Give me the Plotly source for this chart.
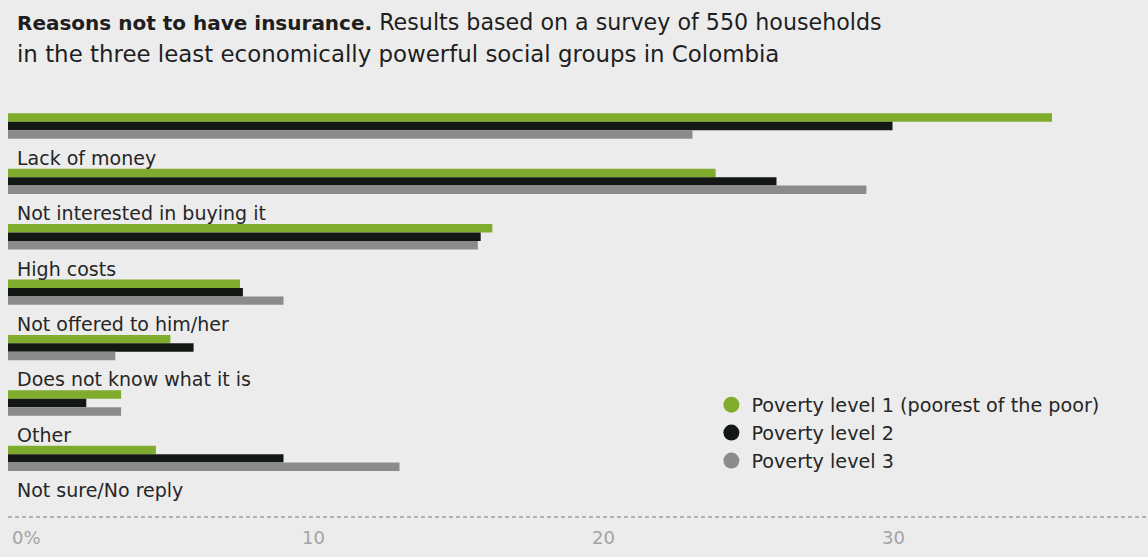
import plotly.graph_objects as go

categories = ["Lack of money", "Not interested in buying it", "High costs",
              "Not offered to him/her", "Does not know what it is", "Other",
              "Not sure/No reply"]
level1 = [36.0, 24.4, 16.7, 8.0, 5.6, 3.9, 5.1]
level2 = [30.5, 26.5, 16.3, 8.1, 6.4, 2.7, 9.5]
level3 = [23.6, 29.6, 16.2, 9.5, 3.7, 3.9, 13.5]
series_names = ["Poverty level 1 (poorest of the poor)", "Poverty level 2", "Poverty level 3"]
colors = ["#80ac2e", "#141814", "#8b8b8b"]
tick_vals = [0, 10, 20, 30]
tick_text = ["0%", "10", "20", "30"]

FONT = "DejaVu Sans"
BG = "#ececec"

fig = go.Figure()
pos = list(range(len(categories)))
for name, vals, col in zip(series_names, [level1, level2, level3], colors):
    fig.add_trace(go.Bar(x=vals, y=pos, orientation="h", marker=dict(color=col, line=dict(width=0)),
                         name=name, showlegend=False, hoverinfo="x"))
for i, (name, col) in enumerate(zip(series_names, colors)):
    fig.add_trace(go.Scatter(x=[None], y=[None], mode="markers", name=name,
                             legendgroup=f"g{i}",
                             marker=dict(color=col, size=16, symbol="circle")))

for i, c in enumerate(categories):
    fig.add_annotation(x=0, y=i + 0.575, xref="x", yref="y", text=c, showarrow=False,
                       xanchor="left", yanchor="middle", xshift=7,
                       font=dict(family=FONT, size=19, color="#262626"))

fig.add_annotation(xref="paper", yref="paper", x=0, y=1, xanchor="left", yanchor="middle",
                   xshift=7, yshift=78, showarrow=False,
                   text="<b><span style='font-size:20px'>Reasons not to have insurance.</span></b> Results based on a survey of 550 households",
                   font=dict(family=FONT, size=22.2, color="#1e1e1e"))
fig.add_annotation(xref="paper", yref="paper", x=0, y=1, xanchor="left", yanchor="middle",
                   xshift=7, yshift=46, showarrow=False,
                   text="in the three least economically powerful social groups in Colombia",
                   font=dict(family=FONT, size=22.9, color="#1e1e1e"))

fig.add_shape(type="line", xref="paper", yref="paper", x0=0, x1=1, y0=0, y1=0,
              line=dict(color="#9a9a9a", width=1.5, dash="4px,3px"))

fig.update_layout(
    width=1148, height=557,
    margin=dict(l=8, r=0, t=100, b=40),
    paper_bgcolor=BG, plot_bgcolor=BG,
    barmode="group", bargap=0.543, bargroupgap=0,
    xaxis=dict(range=[0, 1140 / 29], tickvals=tick_vals, ticktext=tick_text,
               showgrid=False, zeroline=False, showline=False, ticks="",
               ticklabelposition="outside right", ticklabelshift=4, ticklabelstandoff=8,
               tickfont=dict(family=FONT, size=18, color="#a3a3a3")),
    yaxis=dict(range=[7.058, -0.469], showticklabels=False, showgrid=False,
               zeroline=False, showline=False),
    legend=dict(x=0.617, y=0.315, xanchor="left", yanchor="top",
                bgcolor="rgba(0,0,0,0)", tracegroupgap=0,
                font=dict(family=FONT, size=19.2, color="#262626")),
    showlegend=True,
)

fig.write_html("out.html", config={"displayModeBar": False},
               post_script="document.body.style.margin='0';document.body.style.background='#ececec';")
